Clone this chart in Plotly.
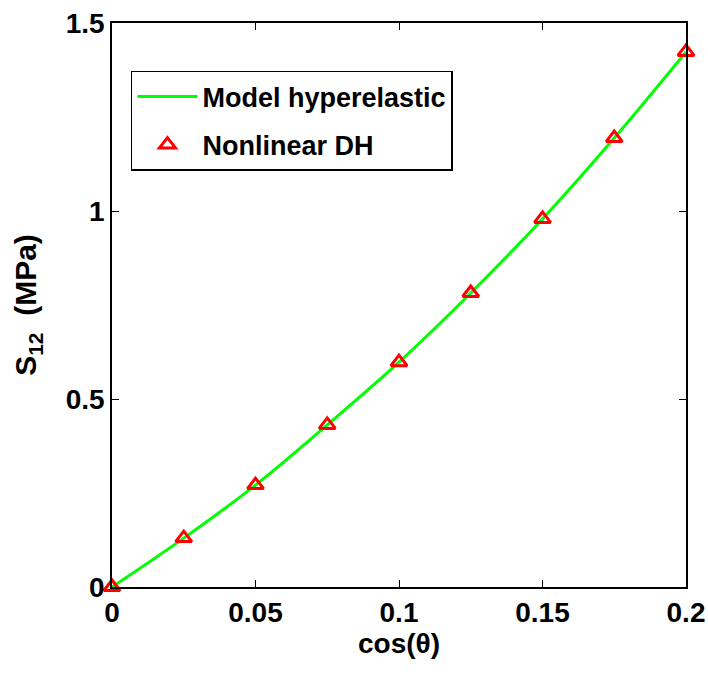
import plotly.graph_objects as go

x_vals = [0, 0.025, 0.05, 0.075, 0.1, 0.125, 0.15, 0.175, 0.2]
model_hyperelastic = [0, 0.130, 0.271, 0.431, 0.598, 0.782, 0.979, 1.194, 1.423]
nonlinear_dh = [0, 0.130, 0.271, 0.431, 0.598, 0.782, 0.979, 1.194, 1.423]
x_ticks = [0, 0.05, 0.1, 0.15, 0.2]
x_tick_labels = ["0", "0.05", "0.1", "0.15", "0.2"]
y_ticks = [0, 0.5, 1, 1.5]
y_tick_labels = ["0", "0.5", "1", "1.5"]

FONT = "Liberation Sans, Arial"

fig = go.Figure()
fig.add_trace(go.Scatter(x=x_vals, y=model_hyperelastic, mode="lines",
                         line=dict(color="#00ff00", width=3, shape="spline"),
                         name="Model hyperelastic", legendgroup="a", cliponaxis=False))
fig.add_trace(go.Scatter(x=x_vals, y=nonlinear_dh, mode="markers",
                         marker=dict(symbol="triangle-up-open", color="red", size=14,
                                     line=dict(width=3, color="red")),
                         name="Nonlinear DH", legendgroup="b", cliponaxis=False))

axis_common = dict(showgrid=False, zeroline=False, showline=True, linecolor="black",
                   linewidth=1.5, mirror="ticks", ticks="inside", ticklen=7,
                   tickcolor="black", tickwidth=1.2, automargin=False,
                   tickfont=dict(family=FONT, size=28, color="black", weight="bold"))

fig.update_xaxes(range=[0, 0.2], tickvals=x_ticks, ticktext=x_tick_labels,
                 title=dict(text="<b>cos(θ)</b>", font=dict(family=FONT, size=28, color="black"),
                            standoff=6),
                 **axis_common)
fig.update_yaxes(range=[0, 1.5], tickvals=y_ticks, ticktext=y_tick_labels,
                 title=dict(text="<b>S<sub>12</sub>  (MPa)</b>", font=dict(family=FONT, size=30, color="black"),
                            standoff=20),
                 **axis_common)

fig.update_layout(
    width=708, height=677,
    margin=dict(l=112, r=22, t=23, b=90),
    plot_bgcolor="white", paper_bgcolor="white",
    legend=dict(x=0.033, y=0.915, xanchor="left", yanchor="top",
                bordercolor="black", borderwidth=1.5, bgcolor="white",
                font=dict(family=FONT, size=27, color="black", weight="bold"),
                tracegroupgap=10, itemwidth=60),
)

fig.write_html("out.html", config={"displayModeBar": False},
               post_script="document.body.style.margin='0';document.body.style.overflow='hidden';")
